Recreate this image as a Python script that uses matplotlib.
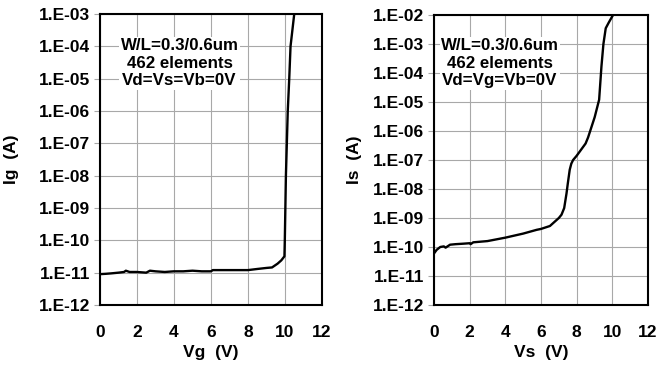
import matplotlib
matplotlib.use("Agg")
import matplotlib.pyplot as plt
import numpy as np

plt.rcParams['font.family'] = ['Liberation Sans', 'DejaVu Sans']
plt.rcParams['font.weight'] = 'bold'

# Left panel: gate current vs gate voltage
vg = [0, 0.3, 0.6, 1.0, 1.3, 1.4, 1.6, 2.0, 2.5, 2.7, 3.0, 3.5, 4.0, 4.5, 5.0, 5.5, 6.0, 6.1,
      7.0, 8.0, 8.5, 9.0, 9.3, 9.6, 9.8, 9.97, 9.99, 10.05, 10.15, 10.23, 10.3, 10.5]
ig = [9e-12, 9.2e-12, 9.5e-12, 1.0e-11, 1.05e-11, 1.15e-11, 1.05e-11, 1.05e-11, 1.0e-11, 1.15e-11,
      1.1e-11, 1.05e-11, 1.1e-11, 1.1e-11, 1.15e-11, 1.1e-11, 1.1e-11, 1.2e-11,
      1.2e-11, 1.2e-11, 1.3e-11, 1.4e-11, 1.45e-11, 1.9e-11, 2.4e-11, 3.2e-11, 1e-10, 1e-8, 1e-6,
      1e-5, 1e-4, 1e-3]

# Right panel: source current vs source voltage
vs = [0, 0.15, 0.35, 0.55, 0.65, 0.9, 1.2, 1.64, 2.0, 2.05, 2.2, 3.0, 4.0, 5.0, 5.75, 6.0, 6.5, 7.0,
      7.15, 7.3, 7.43, 7.5, 7.61, 7.7, 7.8, 8.0, 8.5, 8.64, 9.01, 9.26, 9.39, 9.5, 9.63, 9.8, 10.04]
is_ = [6e-11, 8e-11, 1.0e-10, 1.05e-10, 9.5e-11, 1.2e-10, 1.25e-10, 1.3e-10, 1.35e-10, 1.25e-10,
       1.45e-10, 1.6e-10, 2.1e-10, 2.9e-10, 3.9e-10, 4.2e-10, 5.3e-10, 1.0e-9,
       1.3e-9, 2.2e-9, 7e-9, 1.5e-8, 4.6e-8, 7.5e-8, 1.0e-7, 1.4e-7, 3.7e-7, 6e-7, 3e-6, 1.2e-5,
       1.7e-4, 1e-3, 3.5e-3, 5.5e-3, 1e-2]

x_ticks = [0, 2, 4, 6, 8, 10, 12]

fig = plt.figure(figsize=(6.59, 3.65), dpi=100)
ax1 = fig.add_axes([0.1517, 0.1644, 0.3369, 0.7972])
ax2 = fig.add_axes([0.6586, 0.1644, 0.3247, 0.7945])

def fmt(v):
    e = int(round(np.log10(v)))
    return "1.E%s%02d" % ('-' if e < 0 else '+', abs(e))

FS = 12.5

def style(ax, ymin_exp, ymax_exp, xlabel, ylabel, ylab_x):
    ax.set_yscale('log')
    ax.set_xlim(0, 12)
    ax.set_ylim(10.0 ** ymin_exp, 10.0 ** ymax_exp)
    ticks = [10.0 ** e for e in range(ymin_exp, ymax_exp + 1)]
    ax.set_yticks(ticks)
    ax.set_yticklabels([fmt(t) for t in ticks], fontsize=FS, fontweight='bold')
    ax.yaxis.set_minor_locator(matplotlib.ticker.NullLocator())
    ax.set_xticks(x_ticks)
    ax.set_xticklabels([str(t) for t in x_ticks], fontsize=FS, fontweight='bold')
    ax.grid(True, color='#a8a8a8', linewidth=0.8)
    ax.set_axisbelow(True)
    for s in ax.spines.values():
        s.set_linewidth(1.5)
    ax.tick_params(axis='y', length=4, width=0.8, pad=3, color='#a8a8a8')
    ax.tick_params(axis='x', length=0, pad=14.5)
    ax.set_xlabel(xlabel, fontsize=FS, fontweight='bold')
    ax.set_ylabel(ylabel, fontsize=FS, fontweight='bold')
    ax.xaxis.set_label_coords(0.5, -0.138)
    ax.yaxis.set_label_coords(ylab_x, 0.5)

ax1.plot(vg, ig, color='black', linewidth=1.7)
style(ax1, -12, -3, 'Vg  (V)', 'Ig  (A)', -0.365)
ax1.text(4.3, 10 ** -4.52, 'W/L=0.3/0.6um\n462 elements\nVd=Vs=Vb=0V', ha='center', va='center',
         fontsize=12.2, fontweight='bold', linespacing=1.22,
         bbox=dict(facecolor='white', edgecolor='none', pad=1))

ax2.plot(vs, is_, color='black', linewidth=1.7)
style(ax2, -12, -2, 'Vs  (V)', 'Is  (A)', -0.336)
ax2.text(3.7, 10 ** -3.66, 'W/L=0.3/0.6um\n462 elements\nVd=Vg=Vb=0V', ha='center', va='center',
         fontsize=12.2, fontweight='bold', linespacing=1.22,
         bbox=dict(facecolor='white', edgecolor='none', pad=1))

fig.savefig('out.png', dpi=100)
